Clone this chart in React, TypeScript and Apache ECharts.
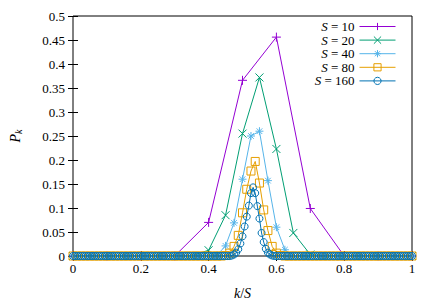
import React, { useEffect, useRef } from "react";
import * as echarts from "echarts";

const sizes = [10, 20, 40, 80, 160];
const seriesNames = ["S = 10", "S = 20", "S = 40", "S = 80", "S = 160"];
const colors = ["#9400d3", "#009e73", "#56b4e9", "#e69f00", "#0072b2"];

const xTicks = [0, 0.2, 0.4, 0.6, 0.8, 1];
const yTicks = [0, 0.05, 0.1, 0.15, 0.2, 0.25, 0.3, 0.35, 0.4, 0.45, 0.5];

const p10 = [0, 0, 0, 0, 0.07, 0.366, 0.456, 0.099, 0, 0, 0];

const p20 = [
  0, 0, 0, 0, 0, 0, 0, 0.0005, 0.012, 0.085, 0.255, 0.372, 0.223, 0.048, 0.003,
  0, 0, 0, 0, 0, 0,
];

const p40 = [
  0, 0, 0, 0, 0, 0, 0, 0, 0, 0,
  0, 0, 0, 0, 0, 0, 0.0001, 0.002, 0.021, 0.069,
  0.16, 0.25, 0.26, 0.157, 0.06, 0.013, 0.001, 0, 0, 0,
  0, 0, 0, 0, 0, 0, 0, 0, 0, 0,
  0,
];

const p80 = [
  0, 0, 0, 0, 0, 0, 0, 0, 0, 0,
  0, 0, 0, 0, 0, 0, 0, 0, 0, 0,
  0, 0, 0, 0, 0, 0, 0, 0, 0, 0,
  0, 0, 0, 0, 0, 0, 0.001, 0.006, 0.02, 0.043,
  0.09, 0.139, 0.177, 0.197, 0.152, 0.096, 0.053, 0.02, 0.006, 0.001,
  0, 0, 0, 0, 0, 0, 0, 0, 0, 0,
  0, 0, 0, 0, 0, 0, 0, 0, 0, 0,
  0, 0, 0, 0, 0, 0, 0, 0, 0, 0,
  0,
];

const p160 = [
  0, 0, 0, 0, 0, 0, 0, 0, 0, 0,
  0, 0, 0, 0, 0, 0, 0, 0, 0, 0,
  0, 0, 0, 0, 0, 0, 0, 0, 0, 0,
  0, 0, 0, 0, 0, 0, 0, 0, 0, 0,
  0, 0, 0, 0, 0, 0, 0, 0, 0, 0,
  0, 0, 0, 0, 0, 0, 0, 0, 0, 0,
  0, 0, 0, 0, 0, 0, 0, 0, 0, 0,
  0, 0, 0, 0, 0, 0.001, 0.003, 0.007, 0.014, 0.026,
  0.041, 0.0615, 0.082, 0.105, 0.131, 0.143, 0.131, 0.104, 0.078, 0.048,
  0.029, 0.015, 0.007, 0.003, 0.001, 0, 0, 0, 0, 0,
  0, 0, 0, 0, 0, 0, 0, 0, 0, 0,
  0, 0, 0, 0, 0, 0, 0, 0, 0, 0,
  0, 0, 0, 0, 0, 0, 0, 0, 0, 0,
  0, 0, 0, 0, 0, 0, 0, 0, 0, 0,
  0, 0, 0, 0, 0, 0, 0, 0, 0, 0,
  0, 0, 0, 0, 0, 0, 0, 0, 0, 0,
  0,
];

const values = [p10, p20, p40, p80, p160];

const symbols = [
  "path://M0,5L10,5M5,0L5,10",
  "path://M0,0L10,10M10,0L0,10",
  "path://M0,5L10,5M5,0L5,10M1.5,1.5L8.5,8.5M8.5,1.5L1.5,8.5",
  "rect",
  "circle",
];
const symbolSizes = [9, 8, 8, 8, 7];

const FONT = "'Liberation Serif', 'DejaVu Serif', serif";

function fmt(v: number) {
  return String(parseFloat(v.toFixed(2)));
}

export default function App() {
  const ref = useRef<HTMLDivElement>(null);
  useEffect(() => {
    if (!ref.current) return;
    const chart = echarts.init(ref.current, undefined, { renderer: "svg" });
    const axisCommon = {
      axisLine: { show: false },
      splitLine: { show: false },
      axisTick: { show: true, inside: true, length: 5, lineStyle: { color: "#000", width: 1 } },
    };
    const series = sizes.map((s, i) => ({
      type: "line",
      name: seriesNames[i],
      xAxisIndex: 0,
      yAxisIndex: 0,
      data: values[i].map((v, k) => [k / s, v]),
      symbol: symbols[i],
      symbolSize: symbolSizes[i],
      showAllSymbol: true,
      lineStyle: { color: colors[i], width: 1 },
      itemStyle: {
        color: "rgba(0,0,0,0)",
        borderColor: colors[i],
        borderWidth: 1,
      },
      emphasis: { disabled: true },
      z: 2 + i,
    }));
    const legends = seriesNames.map((n, i) => ({
      data: [n],
      orient: "vertical",
      align: "right",
      right: 40,
      top: 20 + i * 13.6,
      padding: 0,
      itemWidth: 36,
      itemHeight: 9,
      selectedMode: false,
      lineStyle: { width: 1, color: colors[i] },
      itemStyle: { color: "rgba(0,0,0,0)", borderColor: colors[i], borderWidth: 1 },
      formatter: (name: string) => "{i|S} = " + name.split("= ")[1],
      textStyle: {
        fontFamily: FONT,
        fontSize: 13,
        color: "#000",
        rich: {
          i: { fontFamily: FONT, fontSize: 13, fontStyle: "italic", color: "#000" },
        },
      },
    }));
    chart.setOption({
      animation: false,
      backgroundColor: "#fff",
      textStyle: { fontFamily: FONT },
      grid: {
        left: 65,
        right: 24,
        top: 16,
        bottom: 43,
        show: true,
        borderColor: "#000",
        borderWidth: 1,
        containLabel: false,
      },
      legend: legends,
      xAxis: [
        {
          type: "value",
          position: "bottom",
          min: 0,
          max: 1,
          interval: 0.2,
          ...axisCommon,
          axisLabel: {
            margin: 6,
            fontFamily: FONT,
            fontSize: 13,
            color: "#000",
            formatter: (v: number) => fmt(v),
          },
          name: "{i|k}/{i|S}",
          nameLocation: "middle",
          nameGap: 30,
          nameTextStyle: {
            fontFamily: FONT,
            fontSize: 14,
            color: "#000",
            rich: { i: { fontFamily: FONT, fontSize: 14, fontStyle: "italic", color: "#000" } },
          },
        },
        {
          type: "value",
          position: "top",
          min: 0,
          max: 1,
          interval: 0.2,
          ...axisCommon,
          axisLabel: { show: false },
        },
      ],
      yAxis: [
        {
          type: "value",
          position: "left",
          min: 0,
          max: 0.5,
          interval: 0.05,
          ...axisCommon,
          axisLabel: {
            margin: 8,
            fontFamily: FONT,
            fontSize: 13,
            color: "#000",
            formatter: (v: number) => fmt(v),
          },
          name: "{i|P}{s|k}",
          nameLocation: "middle",
          nameGap: 50,
          nameRotate: 90,
          nameTextStyle: {
            fontFamily: FONT,
            fontSize: 14,
            color: "#000",
            rich: {
              i: { fontFamily: FONT, fontSize: 14, fontStyle: "italic", color: "#000" },
              s: {
                fontFamily: FONT,
                fontSize: 10,
                fontStyle: "italic",
                color: "#000",
                verticalAlign: "bottom",
                padding: [6, 0, 0, 0],
              },
            },
          },
        },
        {
          type: "value",
          position: "right",
          min: 0,
          max: 0.5,
          interval: 0.05,
          ...axisCommon,
          axisLabel: { show: false },
        },
      ],
      series,
    });
    return () => chart.dispose();
  }, []);
  return (
    <div
      ref={ref}
      style={{ position: "fixed", left: 0, top: 0, width: 436, height: 305 }}
    />
  );
}
